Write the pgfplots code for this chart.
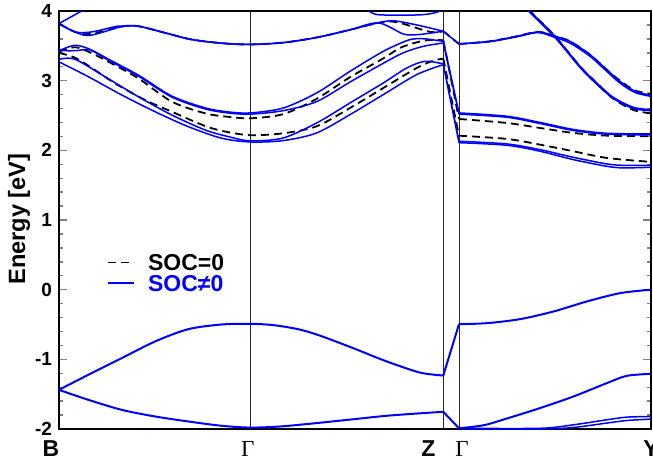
\documentclass[border=0pt]{standalone}
\usepackage{fontspec}
\setmainfont{Liberation Sans}
\newfontfamily\greekfont{Liberation Serif}
\usepackage{pgfplots}
\pgfplotsset{compat=1.18}
\pgfplotsset{
  soc/.style={blue, line width=0.75pt, line join=round},
  nosoc/.style={black, line width=0.9pt, dash pattern=on 4pt off 2.5pt},
}

\begin{document}
\begin{tikzpicture}
\begin{axis}[
  name=ax,
  scale only axis,
  width=296pt, height=209pt,
  xmin=0, xmax=592, ymin=-2, ymax=4,
  axis line style={line width=1pt},
  tick align=inside,
  xtick={0,191.7,384.3,400,592},
  xticklabels={B\hspace*{8pt}, {\greekfont\mdseries Γ}\hspace*{3pt}, Z\hspace*{15pt}, \hspace*{3pt}{\greekfont\mdseries Γ}, Y},
  xtick style={draw=none},
  xmajorgrids,
  major x grid style={black!85, line width=0.5pt},
  ytick={-2,-1,0,1,2,3,4},
  yticklabels={-2,-1,0,1,2,3,4},
  minor y tick num=4,
  ytick style={line width=0.7pt},
  major tick length=3.8pt, minor tick length=2.2pt,
  yticklabel style={font=\bfseries\fontsize{9.5}{11}\selectfont},
  xticklabel style={font=\bfseries\fontsize{11.5}{13}\selectfont, yshift=-2.5pt},
  ylabel={Energy [eV]},
  ylabel style={font=\bfseries\fontsize{11.8}{13}\selectfont, at={(axis description cs:-0.037,0.502)}, anchor=south},
  legend style={at={(0.081,0.3735)}, anchor=west, draw=none, fill=none, inner sep=0pt, row sep=0pt,
    font=\bfseries\fontsize{11.5}{13}\selectfont, nodes={inner sep=1pt, text height=8.3pt, text depth=0pt},
    /tikz/every odd column/.append style={column sep=5.5pt}},
  legend image code/.code={\draw[#1] (0pt,0pt) -- (13pt,0pt);},
  legend cell align=left,
  unbounded coords=jump,
]

% ---------- SOC = 0 (dashed) ----------
\addplot[nosoc, smooth] coordinates {(0,3.42) (16,3.48) (29.3,3.417) (49.3,3.273) (79.3,3.034) (112.7,2.70) (146,2.532) (170,2.48) (191.7,2.46) (224.3,2.52) (257.7,2.74) (291,3.05) (324.3,3.32) (341,3.47) (357.7,3.55) (371,3.584) (384.3,3.58)};
\addlegendentry{SOC=0}
\addplot[nosoc, smooth, forget plot] coordinates {(400,2.45) (447.7,2.393) (481,2.321) (514.3,2.25) (547.7,2.211) (592,2.202)};
\addplot[nosoc, smooth, forget plot] coordinates {(0,3.40) (16,3.33) (31,3.20) (56,2.962) (86,2.723) (112.7,2.555) (146,2.35) (166,2.27) (191.7,2.217) (224.3,2.245) (257.7,2.345) (291,2.608) (324.3,2.895) (357.7,3.182) (374.3,3.287) (384.3,3.316)};
\addplot[nosoc, smooth, forget plot] coordinates {(400,2.21) (447.7,2.164) (481,2.082) (514.3,1.987) (547.7,1.891) (592,1.834)};
\addplot[nosoc, smooth, forget plot] coordinates {(0,3.82) (16,3.70) (31,3.67) (64,3.78) (80,3.78) (107.7,3.68) (129.3,3.60) (147.7,3.56) (170,3.53) (191.7,3.52) (224.3,3.546) (257.7,3.62) (291,3.73) (319.3,3.83) (337.7,3.84) (371,3.70) (384.3,3.71)};
\addplot[nosoc, smooth, forget plot] coordinates {(400,3.527) (431,3.565) (457.7,3.637) (479.3,3.70) (496,3.637) (511,3.565) (531,3.373) (547.7,3.158) (561,3.00) (576,2.86) (592,2.81)};
\addplot[nosoc, smooth, forget plot] coordinates {(460,4.15) (469.3,4.02) (496,3.637) (521,3.206) (537.7,2.967) (554.3,2.74) (574.3,2.58) (592,2.53)};
\addplot[nosoc, forget plot] coordinates {(330,3.995) (372,3.995)};
% Z -> Gamma connectors
\addplot[nosoc, forget plot] coordinates {(384.3,3.58) (400,2.45) (400,nan) (384.3,3.316) (400,2.21) (400,nan) (384.3,3.71) (400,3.527)};

% ---------- SOC != 0 (solid blue) ----------
\addplot[soc, smooth] coordinates {(0,3.82) (16,3.70) (31,3.65) (64,3.78) (80,3.78) (107.7,3.68) (129.3,3.60) (147.7,3.56) (170,3.53) (191.7,3.52) (224.3,3.546) (257.7,3.62) (291,3.73) (319.3,3.83) (334.3,3.86) (357.7,3.80) (384.3,3.71)};
\addlegendentry{\textcolor{blue}{SOC≠0}}
\addplot[soc, smooth, forget plot] coordinates {(400,3.527) (431,3.565) (457.7,3.637) (479.3,3.70) (496,3.637) (511,3.565) (531,3.373) (547.7,3.158) (561,2.99) (576,2.848) (592,2.79)};
\addplot[soc, smooth, forget plot] coordinates {(0,3.82) (16,3.70) (32.7,3.70) (57.7,3.78) (64,3.78) (80,3.78) (107.7,3.68) (129.3,3.60) (147.7,3.56) (170,3.53) (191.7,3.52) (224.3,3.546) (257.7,3.62) (291,3.73) (319.3,3.83) (344.3,3.67) (357.7,3.66) (370,3.68) (384.3,3.71)};
\addplot[soc, smooth, forget plot] coordinates {(400,3.527) (431,3.56) (457.7,3.63) (479.3,3.69) (496,3.62) (511,3.54) (531,3.35) (547.7,3.135) (561,2.965) (576,2.83) (592,2.775)};
\addplot[soc, forget plot] coordinates {(0,3.82) (22.7,4.0) (35,4.1)};
\addplot[soc, smooth, forget plot] coordinates {(300,4.1) (311,3.99) (321,3.945) (361,3.945) (379.3,3.99) (390,4.1)};
\addplot[soc, smooth, forget plot] coordinates {(460,4.15) (469.3,4.02) (496,3.637) (521,3.206) (537.7,2.967) (554.3,2.761) (574.3,2.618) (592,2.584)};
\addplot[soc, smooth, forget plot] coordinates {(460,4.13) (469.3,4.0) (496,3.62) (521,3.19) (537.7,2.95) (554.3,2.745) (574.3,2.60) (592,2.57)};
\addplot[soc, smooth, forget plot] coordinates {(0,3.43) (16,3.508) (31,3.45) (49.3,3.31) (79.3,3.08) (112.7,2.78) (146,2.61) (170,2.55) (191.7,2.537) (224.3,2.608) (257.7,2.824) (291,3.134) (324.3,3.421) (347.7,3.574) (357.7,3.603) (367.7,3.598) (384.3,3.565)};
\addplot[soc, smooth, forget plot] coordinates {(400,2.537) (447.7,2.49) (481,2.40) (514.3,2.30) (547.7,2.245) (592,2.235)};
\addplot[soc, smooth, forget plot] coordinates {(0,3.43) (16,3.43) (31,3.44) (49.3,3.295) (79.3,3.065) (112.7,2.765) (146,2.595) (170,2.535) (191.7,2.52) (224.3,2.57) (257.7,2.70) (291,2.98) (324.3,3.25) (344.3,3.40) (364.3,3.493) (384.3,3.541)};
\addplot[soc, smooth, forget plot] coordinates {(400,2.52) (447.7,2.475) (481,2.385) (514.3,2.285) (547.7,2.232) (592,2.222)};
\addplot[soc, smooth, forget plot] coordinates {(0,3.307) (16,3.307) (46,3.057) (79.3,2.77) (112.7,2.508) (146,2.293) (169.3,2.197) (191.7,2.135) (224.3,2.178) (257.7,2.393) (291,2.68) (324.3,2.967) (347.7,3.182) (366,3.278) (384.3,3.24)};
\addplot[soc, smooth, forget plot] coordinates {(400,2.13) (447.7,2.092) (481,2.01) (514.3,1.90) (547.7,1.805) (564.3,1.785) (592,1.785)};
\addplot[soc, smooth, forget plot] coordinates {(0,3.27) (29.3,3.057) (62.7,2.795) (96,2.555) (129.3,2.34) (162.7,2.174) (191.7,2.12) (224.3,2.14) (257.7,2.25) (291,2.513) (324.3,2.80) (357.7,3.087) (384.3,3.23)};
\addplot[soc, smooth, forget plot] coordinates {(400,2.11) (447.7,2.073) (481,1.987) (514.3,1.867) (547.7,1.771) (564.3,1.748) (592,1.757)};
% Z -> Gamma connectors (conduction)
\addplot[soc, forget plot] coordinates {(384.3,3.71) (400,3.527) (400,nan) (384.3,3.565) (400,2.537) (400,nan) (384.3,3.541) (400,2.52) (400,nan) (384.3,3.24) (400,2.13) (400,nan) (384.3,3.23) (400,2.11)};

% ---------- valence bands ----------
\addplot[soc, smooth, line width=1pt, forget plot] coordinates {(0,-1.438) (29.3,-1.222) (62.7,-0.983) (96,-0.744) (129.3,-0.567) (162.7,-0.50) (191.7,-0.49) (215,-0.51) (240,-0.57) (261,-0.66) (294.3,-0.84) (327.7,-1.03) (361,-1.19) (384.3,-1.232)};
\addplot[soc, smooth, line width=1pt, forget plot] coordinates {(400,-0.495) (427.7,-0.481) (461,-0.423) (494.3,-0.314) (527.7,-0.17) (561,-0.05) (592,0.0)};
\addplot[soc, smooth, line width=1pt, forget plot] coordinates {(0,-1.438) (29.3,-1.581) (62.7,-1.725) (96,-1.82) (129.3,-1.892) (162.7,-1.954) (191.7,-1.98) (220,-1.965) (240,-1.94) (261,-1.91) (294.3,-1.86) (327.7,-1.81) (361,-1.775) (384.3,-1.753)};
\addplot[soc, smooth, line width=1pt, forget plot] coordinates {(400,-1.99) (425,-1.945) (447.7,-1.85) (481,-1.70) (514.3,-1.534) (547.7,-1.342) (567.7,-1.237) (592,-1.208)};
\addplot[soc, smooth, forget plot] coordinates {(400,-1.99) (481,-1.99) (514.3,-1.94) (547.7,-1.868) (567.7,-1.83) (592,-1.82)};
\addplot[soc, smooth, forget plot] coordinates {(400,-1.995) (481,-2.0) (514.3,-1.978) (547.7,-1.915) (567.7,-1.878) (592,-1.858)};
\addplot[soc, line width=1pt, forget plot] coordinates {(384.3,-1.232) (400,-0.495) (400,nan) (384.3,-1.753) (400,-1.99)};

\end{axis}
\pgfresetboundingbox
\path[use as bounding box] ([xshift=-29.5pt,yshift=-18.5pt]ax.south west) rectangle ([xshift=1pt,yshift=5.5pt]ax.north east);
\end{tikzpicture}
\end{document}
